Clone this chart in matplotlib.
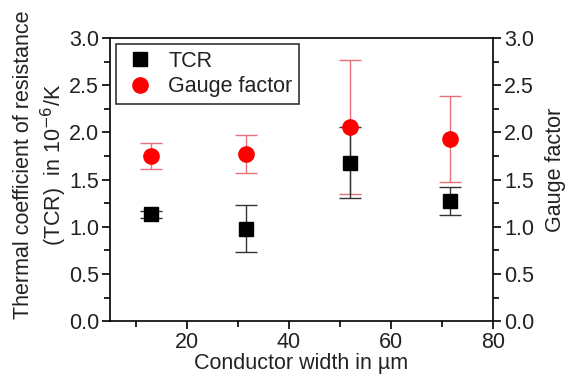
import matplotlib
matplotlib.use("Agg")
import matplotlib.pyplot as plt
from matplotlib.ticker import MultipleLocator

plt.rcParams['font.family'] = ['Liberation Sans', 'DejaVu Sans']

width = [13.0, 31.7, 52.0, 71.5]
tcr = [1.13, 0.98, 1.68, 1.27]
tcr_err = [0.04, 0.25, 0.38, 0.15]
gf = [1.75, 1.77, 2.06, 1.93]
gf_err = [0.14, 0.20, 0.71, 0.46]

FS = 15.5
fig = plt.figure(figsize=(5.7, 3.8), dpi=100)
ax = fig.add_axes([0.193, 0.155, 0.672, 0.745])

# gauge factor (red)
eb = ax.errorbar(width, gf, yerr=gf_err, fmt='none', ecolor='#e8707a', elinewidth=1.0,
                 capsize=8, capthick=1.0, zorder=2)
for cl in eb[1]:
    cl.set_color('#555555')
# TCR (black)
ax.errorbar(width, tcr, yerr=tcr_err, fmt='none', ecolor='#333333', elinewidth=1.0,
            capsize=8, capthick=1.0, zorder=2)
ax.plot(width, tcr, 's', color='black', markersize=10, label='TCR', zorder=3)
ax.plot(width, gf, 'o', color='#ff0000', markersize=11, label='Gauge factor', zorder=4)

ax.set_xlim(5, 80)
ax.set_ylim(0, 3.0)
ax.xaxis.set_major_locator(MultipleLocator(20))
ax.xaxis.set_minor_locator(MultipleLocator(10))
ax.yaxis.set_major_locator(MultipleLocator(0.5))
ax.yaxis.set_minor_locator(MultipleLocator(0.25))
ax.yaxis.set_major_formatter(matplotlib.ticker.FormatStrFormatter('%.1f'))
ax.tick_params(axis='both', which='major', direction='out', length=6, width=1.2,
               labelsize=FS, colors='black', labelcolor='#222222', pad=2)
ax.tick_params(axis='both', which='minor', direction='out', length=4, width=1.2)
ax.spines['right'].set_visible(False)
for s in ['left', 'bottom', 'top']:
    ax.spines[s].set_linewidth(1.2)

ax.set_xlabel('Conductor width in µm', fontsize=FS, color='#222222', labelpad=0)
ax.set_ylabel('Thermal coefficient of resistance\n(TCR)  in 10$^{-6}$/K', fontsize=FS,
              color='#222222', linespacing=1.2)
ax.yaxis.set_label_coords(-0.108, 0.552)

ax2 = ax.twinx()
ax2.set_ylim(0, 3.0)
ax2.yaxis.set_major_locator(MultipleLocator(0.5))
ax2.yaxis.set_minor_locator(MultipleLocator(0.25))
ax2.yaxis.set_major_formatter(matplotlib.ticker.FormatStrFormatter('%.1f'))
ax2.tick_params(axis='y', which='major', direction='out', length=6, width=1.2,
                labelsize=FS, labelcolor='#222222', pad=2)
ax2.tick_params(axis='y', which='minor', direction='out', length=4, width=1.2)
for s in ['left', 'bottom', 'top']:
    ax2.spines[s].set_visible(False)
ax2.spines['right'].set_linewidth(1.2)
ax2.set_ylabel('Gauge factor', fontsize=FS, color='#222222')
ax2.yaxis.set_label_coords(1.135, 0.534)

leg = ax.legend(loc='upper left', fontsize=FS, frameon=True, fancybox=False,
                edgecolor='black', borderaxespad=0.3, handletextpad=0.5,
                borderpad=0.3, labelspacing=0.2, handlelength=1.6)
leg.get_frame().set_linewidth(1.2)
for t in leg.get_texts():
    t.set_color('#222222')

fig.savefig('out.png', dpi=100)
